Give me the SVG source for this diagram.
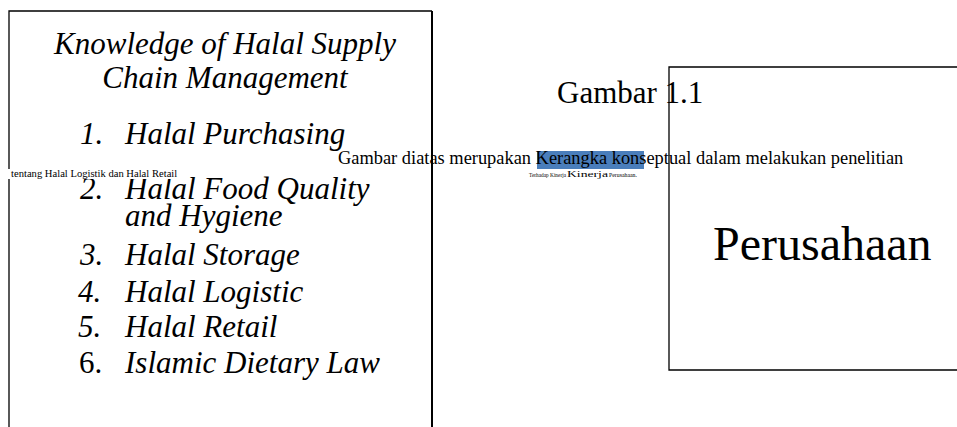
<svg xmlns="http://www.w3.org/2000/svg" width="957" height="427" viewBox="0 0 957 427">
<style>
.box{fill:none;stroke:#000;stroke-width:1.3}
.serif{font-family:"Liberation Serif","Times New Roman",serif;fill:#000}
.it{font-style:italic;font-size:31px}
.num{font-style:italic;font-size:31px}
</style>
<rect width="957" height="427" fill="#fff"/>
<g id="connectors"/>
<g id="node-knowledge">
<path class="box" d="M9,432 V11 H432"/>
<line x1="432" y1="11" x2="432" y2="432" stroke="#000" stroke-width="2"/>
<text class="serif it" x="225" y="54" text-anchor="middle">Knowledge of Halal Supply</text>
<text class="serif it" x="225" y="88" text-anchor="middle">Chain Management</text>
<text class="serif num" x="80" y="144">1.</text>
<text class="serif it" x="125" y="144">Halal Purchasing</text>
<text class="serif num" x="80" y="199">2.</text>
<text class="serif it" x="125" y="199">Halal Food Quality</text>
<text class="serif it" x="125" y="226">and Hygiene</text>
<text class="serif num" x="80" y="265">3.</text>
<text class="serif it" x="125" y="265">Halal Storage</text>
<text class="serif num" x="78" y="302">4.</text>
<text class="serif it" x="125" y="302">Halal Logistic</text>
<text class="serif num" x="78" y="337">5.</text>
<text class="serif it" x="125" y="337">Halal Retail</text>
<text class="serif" font-size="31" x="79" y="373">6.</text>
<text class="serif it" x="125" y="373">Islamic Dietary Law</text>
</g>
<g id="node-perusahaan">
<path class="box" d="M960,67 H669 V370 H960"/>
<text class="serif" font-size="48" x="713" y="260">Perusahaan</text>
</g>
<g id="caption">
<text class="serif" font-size="31" x="557" y="103">Gambar 1.1</text>
<rect x="537" y="151" width="107" height="18" fill="#4a7ebb"/>
<text class="serif" font-size="18.4" x="338" y="164">Gambar diatas merupakan Kerangka konseptual dalam melakukan penelitian</text>
<text class="serif" font-size="5.5" x="529" y="177" textLength="37" lengthAdjust="spacingAndGlyphs">Terhadap Kinerja</text>
<text class="serif" font-size="9" x="567" y="177" textLength="41" lengthAdjust="spacingAndGlyphs">Kinerja</text>
<text class="serif" font-size="5.8" x="609" y="177" textLength="28" lengthAdjust="spacingAndGlyphs">Perusahaan.</text>
</g>
<g id="side-note">
<rect x="0" y="169" width="180" height="10" fill="#fff"/>
<text class="serif" font-size="10.6" x="11" y="177">tentang Halal Logistik dan Halal Retail</text>
</g>
</svg>
